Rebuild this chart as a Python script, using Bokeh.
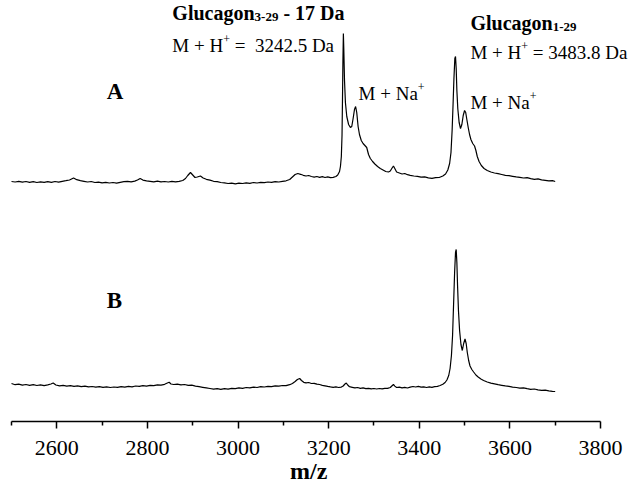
import re
from bokeh.plotting import figure
from bokeh.models import Range1d, FixedTicker, Label, Div
from bokeh.layouts import column
from bokeh.embed import file_html
from bokeh.resources import INLINE

# ---------------- data (m/z, intensity a.u.) ----------------
spectrum_A = [
    (2500, 35), (2508, 34.5), (2516, 35.2), (2524, 34.4), (2532, 35), (2540, 34.2), (2548, 34.8),
    (2556, 34), (2564, 34.6), (2572, 34.1), (2580, 34.8), (2588, 34.2), (2596, 35), (2604, 34.4),
    (2612, 35.2), (2620, 35.8), (2628, 36.5), (2637, 38.5), (2644, 36.8), (2652, 35.8), (2660, 35.2),
    (2668, 34.5), (2676, 35), (2684, 34), (2692, 34.4), (2700, 33.7), (2708, 34.2), (2716, 33.5),
    (2724, 34), (2732, 33.4), (2740, 34.2), (2748, 34.8), (2756, 35.2), (2764, 34.6), (2772, 35.4),
    (2778, 36.5), (2784, 38), (2790, 36.4), (2798, 35.6), (2806, 35.2), (2814, 34.7), (2822, 35.3),
    (2830, 34.6), (2838, 35), (2846, 34.5), (2854, 35.1), (2862, 34.7), (2870, 35.2), (2878, 36),
    (2884, 38), (2889, 41), (2895, 44), (2900, 41.5), (2905, 39), (2910, 39.5), (2917, 40.5),
    (2923, 38.5), (2930, 37.2), (2938, 36.4), (2946, 35.2), (2954, 34.8), (2962, 34), (2970, 33.6),
    (2978, 33), (2986, 33.4), (2994, 32.7), (3002, 33.3), (3010, 33), (3018, 33.6), (3026, 33.2),
    (3034, 34), (3042, 33.5), (3050, 34.2), (3058, 33.8), (3066, 34.5), (3074, 34.1), (3082, 34.8),
    (3090, 34.5), (3098, 35.2), (3106, 35.7), (3114, 37), (3120, 39.5), (3126, 42), (3132, 43),
    (3138, 42.2), (3144, 41.2), (3150, 40.5), (3156, 41), (3162, 40), (3168, 39.4), (3174, 40),
    (3180, 39.2), (3186, 39.8), (3192, 39), (3198, 39.6), (3204, 38.8), (3210, 39.2), (3216, 40),
    (3220, 41.5), (3224, 45), (3226, 50), (3228, 60), (3229.5, 81), (3230.5, 116), (3231.5, 156),
    (3232.5, 183), (3233.5, 166), (3235, 136), (3237, 114), (3240, 100), (3244, 92), (3248, 89),
    (3251, 90), (3254, 98), (3257, 107), (3259.5, 110), (3262, 104), (3265, 90), (3268, 82),
    (3272, 76), (3276, 73), (3280, 71), (3284, 69), (3288, 62), (3292, 58), (3297, 55),
    (3302, 52.5), (3308, 50), (3314, 48), (3320, 46.5), (3326, 45), (3332, 44.5), (3336, 45.5),
    (3340, 48.5), (3343, 50.5), (3346, 48), (3350, 44.5), (3356, 43.5), (3362, 42.5), (3368, 43),
    (3374, 41.8), (3380, 41.2), (3388, 40.5), (3396, 40.2), (3404, 39.4), (3412, 39.6), (3420, 38.6),
    (3428, 38.2), (3436, 38.8), (3444, 39), (3452, 40.5), (3458, 42.5), (3463, 46.5), (3467, 53),
    (3470, 64), (3472.5, 86), (3474.5, 111), (3476.5, 138), (3478.5, 158), (3480, 160), (3481.5, 148),
    (3483, 126), (3485, 108), (3488, 94), (3491, 88), (3494, 92), (3497, 101), (3500, 106),
    (3502.5, 104), (3505, 97), (3508, 89), (3511, 82), (3514, 77), (3518, 73), (3522, 70.5),
    (3525, 66), (3528, 60), (3532, 55), (3537, 51), (3543, 48), (3550, 46), (3558, 44.5),
    (3566, 43.5), (3574, 42.8), (3582, 42), (3590, 41.2), (3598, 40.8), (3606, 40.2), (3614, 39.6),
    (3622, 39.1), (3630, 38.5), (3638, 38.8), (3646, 37.8), (3654, 37.2), (3662, 37.6), (3670, 36.6),
    (3678, 36.2), (3686, 35.6), (3694, 35.8), (3700, 35),
]

spectrum_B = [
    (2500, 38), (2508, 36.8), (2516, 37.4), (2524, 36.4), (2532, 37), (2540, 36.2), (2548, 36.8),
    (2556, 36), (2564, 36.6), (2572, 35.8), (2580, 36.6), (2587, 37.5), (2592, 38.5), (2598, 36.5),
    (2606, 35.7), (2614, 36.2), (2622, 35.4), (2630, 35.8), (2638, 35.1), (2646, 35.7), (2654, 34.9),
    (2662, 35.4), (2670, 34.6), (2678, 35), (2686, 34.3), (2694, 34.9), (2702, 34.2), (2710, 34.7),
    (2718, 34), (2726, 34.5), (2734, 34.1), (2742, 34.8), (2750, 34.4), (2758, 35.1), (2766, 34.7),
    (2774, 35.5), (2782, 35.1), (2790, 35.8), (2798, 35.4), (2806, 36.2), (2814, 35.8), (2822, 36.6),
    (2830, 36.4), (2838, 37.2), (2844, 38.5), (2848, 39.2), (2852, 37.5), (2858, 37), (2866, 37.4),
    (2874, 36.6), (2882, 37), (2890, 36.1), (2898, 36.4), (2906, 35.4), (2914, 34.8), (2922, 34.2),
    (2930, 33.6), (2938, 33), (2946, 32.4), (2954, 32.8), (2962, 32.2), (2970, 32.8), (2978, 32.4),
    (2986, 33.2), (2994, 32.8), (3002, 33.6), (3010, 33.2), (3018, 34), (3026, 33.6), (3034, 34.4),
    (3042, 34), (3050, 34.8), (3058, 34.5), (3066, 35.2), (3074, 34.8), (3082, 35.6), (3090, 35.3),
    (3098, 36), (3106, 35.8), (3114, 36.8), (3120, 38), (3126, 40), (3131, 42), (3136, 43),
    (3140, 41), (3145, 39.2), (3150, 38.6), (3156, 39), (3162, 38), (3168, 38.2), (3174, 37.4),
    (3180, 37), (3186, 36.2), (3192, 35.7), (3198, 35.1), (3204, 34.6), (3210, 34.2), (3216, 34.7),
    (3222, 34), (3228, 34.4), (3232, 35.5), (3236, 37.5), (3239, 38.4), (3242, 36.5), (3246, 34.8),
    (3252, 34.2), (3258, 33.6), (3264, 34), (3270, 33.2), (3276, 33.6), (3282, 32.8), (3288, 33.2),
    (3294, 32.6), (3300, 33), (3306, 32.5), (3312, 33), (3318, 32.6), (3324, 33.2), (3330, 33.1),
    (3336, 34), (3340, 35.8), (3343, 37), (3346, 35.4), (3350, 34), (3356, 34.4), (3362, 33.6),
    (3368, 34.2), (3374, 33.5), (3380, 34.4), (3386, 35), (3392, 34.5), (3398, 35.2), (3404, 34.4),
    (3410, 34.7), (3416, 34), (3422, 34.6), (3428, 34.2), (3434, 34.8), (3440, 35.2), (3446, 36),
    (3452, 37.2), (3457, 39), (3461, 41.5), (3465, 46), (3468, 53), (3471, 66), (3473.5, 86),
    (3476, 121), (3478, 149), (3480, 169), (3481.5, 172), (3483, 159), (3484.5, 136), (3486.5, 111),
    (3489, 91), (3492, 77), (3495, 71), (3498, 78), (3501, 82.5), (3503.5, 78), (3506, 69),
    (3509, 61), (3512, 55.5), (3516, 52), (3520, 49.5), (3525, 46.5), (3530, 44.5), (3536, 42.5),
    (3542, 41), (3550, 39.5), (3558, 38.4), (3566, 37.6), (3574, 36.8), (3582, 36.2), (3590, 35.6),
    (3598, 35.1), (3606, 34.4), (3614, 34), (3622, 33.4), (3630, 33.6), (3638, 32.8), (3646, 32.2),
    (3654, 32.5), (3662, 31.7), (3670, 31.2), (3678, 31.4), (3686, 30.6), (3694, 30.2), (3700, 30),
]

OFFSET_A = 205  # vertical stacking offset of trace A

major_ticks = [2600, 2800, 3000, 3200, 3400, 3600, 3800]
minor_ticks = [2500, 2700, 2900, 3100, 3300, 3500, 3700]
axis_bounds = (2500, 3800)
x_title = "m/z"

mz_A = [p[0] for p in spectrum_A]
int_A = [p[1] + OFFSET_A for p in spectrum_A]
mz_B = [p[0] for p in spectrum_B]
int_B = [p[1] for p in spectrum_B]

# ---------------- figure ----------------
p = figure(width=635, height=466, output_backend="svg", toolbar_location=None,
           x_range=Range1d(2475.72, 3877.25), y_range=Range1d(0, 421),
           min_border_left=0, min_border_right=0, min_border_top=0, min_border_bottom=45)
p.outline_line_color = None
p.grid.visible = False
p.yaxis.visible = False
p.background_fill_color = "white"
p.border_fill_color = "white"

p.line(mz_A, int_A, line_color="black", line_width=1.2)
p.line(mz_B, int_B, line_color="black", line_width=1.2)

FONT = "Liberation Serif"

ax = p.xaxis[0]
ax.bounds = axis_bounds
ax.ticker = FixedTicker(ticks=major_ticks, minor_ticks=minor_ticks)
ax.axis_line_color = "black"
ax.axis_line_width = 1.5
ax.major_tick_line_color = "black"
ax.major_tick_line_width = 1.5
ax.minor_tick_line_color = "black"
ax.minor_tick_line_width = 1.5
ax.major_tick_in = 0
ax.major_tick_out = 7
ax.minor_tick_in = 0
ax.minor_tick_out = 4
ax.major_label_text_font = FONT
ax.major_label_text_font_size = "22px"
ax.major_label_text_color = "black"
ax.major_label_standoff = 12

# Times advance widths (1/1000 em)
REG = {" ": 250, "+": 564, "=": 564, "M": 889, "H": 722, "N": 722, "a": 444, "D": 722,
       ".": 250, "-": 333}
BOLD = {" ": 250, "-": 333, "G": 778, "l": 278, "u": 556, "c": 444, "a": 500, "g": 500,
        "o": 500, "n": 556, "D": 722, "A": 722, "B": 667}


def width(txt, size, bold):
    table = BOLD if bold else REG
    return sum(table.get(ch, 500) for ch in txt) * size / 1000.0


def rich(x, y, parts):
    """parts: list of (text, size, bold, dy); spaces are turned into offsets"""
    off = 0.0
    for txt, size, bold, dy in parts:
        for tok in re.split(r"( )", txt):
            if tok == "":
                continue
            if tok != " ":
                p.add_layout(Label(x=x, y=y, x_offset=off, y_offset=dy, text=tok,
                                   text_font=FONT, text_font_size=f"{size}px",
                                   text_font_style="bold" if bold else "normal",
                                   text_color="black", text_baseline="alphabetic",
                                   text_align="left"))
            off += width(tok, size, bold)


# annotations
rich(2855, 409, [("Glucagon", 20, True, 0), ("3-29", 13, True, -4), (" - 17 Da", 20, True, 0)])
rich(2855, 376, [("M + H", 19, False, 0), ("+", 12, False, 7), (" =  3242.5 Da", 19, False, 0)])
rich(3513, 399, [("Glucagon", 20, True, 0), ("1-29", 13, True, -4)])
rich(3513, 369, [("M + H", 19, False, 0), ("+", 12, False, 7), (" = 3483.8 Da", 19, False, 0)])
rich(3266, 328, [("M + Na", 19, False, 0), ("+", 12, False, 7)])
rich(3513, 319, [("M + Na", 19, False, 0), ("+", 12, False, 7)])
rich(2710, 330, [("A", 23, True, 0)])
rich(2710, 121, [("B", 23, True, 0)])

# x-axis title, set just below the plot (in the reference it sits on the bottom edge)
title = Div(text=x_title, width=635, height=19, margin=0,
            styles={"font-family": "'Liberation Serif', serif", "font-size": "24px",
                    "font-weight": "bold", "line-height": "10px", "text-indent": "290px",
                    "color": "black", "overflow": "visible", "white-space": "nowrap"})

layout = column(p, title, spacing=0)
open("out.html", "w").write(file_html(layout, INLINE))
